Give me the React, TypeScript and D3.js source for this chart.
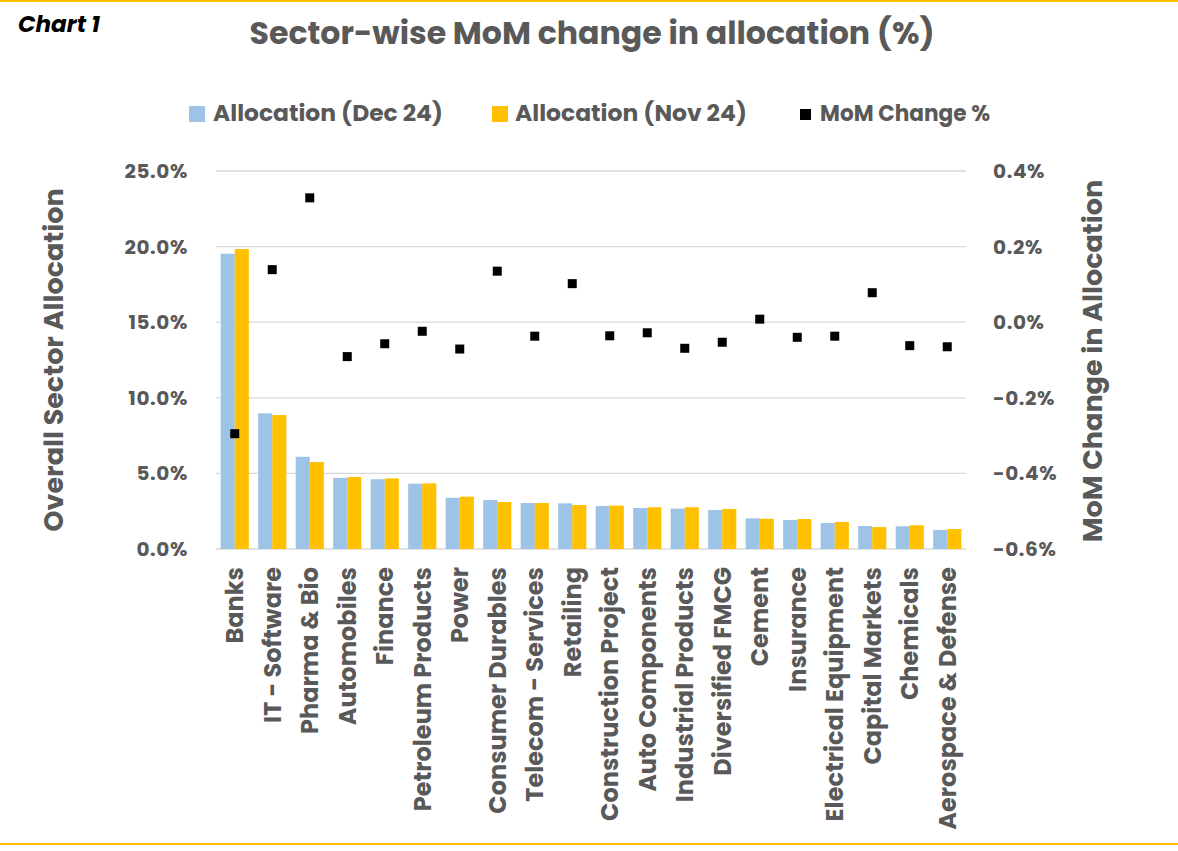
import React from "react";
import * as d3 from "d3";

const sectors = [
  "Banks",
  "IT - Software",
  "Pharma & Bio",
  "Automobiles",
  "Finance",
  "Petroleum Products",
  "Power",
  "Consumer Durables",
  "Telecom - Services",
  "Retailing",
  "Construction Project",
  "Auto Components",
  "Industrial Products",
  "Diversified FMCG",
  "Cement",
  "Insurance",
  "Electrical Equipment",
  "Capital Markets",
  "Chemicals",
  "Aerospace & Defense",
];

// allocation in %
const allocDec = [19.53, 8.97, 6.1, 4.7, 4.61, 4.32, 3.39, 3.24, 3.04, 3.02, 2.84, 2.71, 2.67, 2.58, 2.03, 1.92, 1.72, 1.52, 1.5, 1.26];
const allocNov = [19.84, 8.86, 5.75, 4.76, 4.67, 4.34, 3.46, 3.11, 3.04, 2.91, 2.87, 2.76, 2.76, 2.65, 2.0, 1.98, 1.79, 1.45, 1.57, 1.32];
// MoM change in %
const momChange = [-0.295, 0.139, 0.329, -0.091, -0.057, -0.024, -0.071, 0.135, -0.037, 0.102, -0.036, -0.028, -0.069, -0.053, 0.008, -0.04, -0.037, 0.078, -0.062, -0.065];

const leftTicks = [0, 5, 10, 15, 20, 25];
const rightTicks = [-0.6, -0.4, -0.2, 0, 0.2, 0.4];

const W = 1178;
const H = 851;
const plot = { left: 216, right: 966, top: 171, bottom: 549 };

const FONT = "Poppins, 'Open Sans', sans-serif";
const GREY = "#595959";
const BLUE = "#9dc3e6";
const GOLD = "#ffc000";

export default function App() {
  const x = d3.scaleBand<string>().domain(sectors).range([plot.left, plot.right]).paddingInner(0.25).paddingOuter(0.125);
  const xSub = d3.scaleBand<string>().domain(["dec", "nov"]).range([0, x.bandwidth()]);
  const yL = d3.scaleLinear().domain([0, 25]).range([plot.bottom, plot.top]);
  const yR = d3.scaleLinear().domain([-0.6, 0.4]).range([plot.bottom, plot.top]);
  const mk = 9;

  return (
    <svg width={W} height={H} style={{ display: "block", position: "absolute", left: 0, top: 0, background: "#fff" }}>
      <rect x={0} y={0} width={W} height={2} fill={GOLD} />
      <rect x={0} y={843} width={W} height={2} fill={GOLD} />

      <text x={18} y={32} fontFamily={FONT} fontSize={22} fontWeight={700} fontStyle="italic" fill="#000" textLength={82} lengthAdjust="spacingAndGlyphs">
        Chart 1
      </text>
      <text x={592} y={44} textAnchor="middle" fontFamily={FONT} fontSize={31} fontWeight={700} fill={GREY} textLength={685} lengthAdjust="spacingAndGlyphs">
        Sector-wise MoM change in allocation (%)
      </text>

      {/* legend */}
      <g fontFamily={FONT} fontSize={22} fontWeight={700} fill={GREY}>
        <rect x={189} y={106} width={16} height={16} fill={BLUE} />
        <text x={213} y={121} textLength={230} lengthAdjust="spacingAndGlyphs">Allocation (Dec 24)</text>
        <rect x={492} y={106} width={16} height={16} fill={GOLD} />
        <text x={515} y={121} textLength={232} lengthAdjust="spacingAndGlyphs">Allocation (Nov 24)</text>
        <rect x={800} y={109} width={11} height={11} fill="#000" />
        <text x={820} y={121} textLength={170} lengthAdjust="spacingAndGlyphs">MoM Change %</text>
      </g>

      {/* gridlines */}
      {leftTicks.map((t) => (
        <line key={t} x1={plot.left} x2={plot.right} y1={yL(t)} y2={yL(t)} stroke="#d9d9d9" strokeWidth={1.3} />
      ))}

      {/* bars */}
      {sectors.map((s, i) => (
        <g key={s} transform={`translate(${x(s)},0)`}>
          <rect x={xSub("dec")} y={yL(allocDec[i])} width={xSub.bandwidth()} height={yL(0) - yL(allocDec[i])} fill={BLUE} />
          <rect x={xSub("nov")} y={yL(allocNov[i])} width={xSub.bandwidth()} height={yL(0) - yL(allocNov[i])} fill={GOLD} />
        </g>
      ))}

      {/* MoM markers */}
      {sectors.map((s, i) => (
        <rect key={s} x={(x(s) as number) + x.bandwidth() / 2 - mk / 2} y={yR(momChange[i]) - mk / 2} width={mk} height={mk} fill="#000" />
      ))}

      {/* tick labels */}
      <g fontFamily={FONT} fontSize={20} fontWeight={700} fill={GREY}>
        {leftTicks.map((t) => (
          <text key={t} x={188} y={yL(t)} dy="0.35em" textAnchor="end" letterSpacing={0.6}>
            {t.toFixed(1)}%
          </text>
        ))}
        {rightTicks.map((t) => (
          <text key={t} x={993} y={yR(t)} dy="0.35em" textAnchor="start" letterSpacing={0.6}>
            {(t < 0 ? "-" : "") + Math.abs(t).toFixed(1)}%
          </text>
        ))}
      </g>

      {/* axis titles */}
      <text transform="translate(63,360) rotate(-90)" textAnchor="middle" fontFamily={FONT} fontSize={27} fontWeight={700} fill={GREY}>
        Overall Sector Allocation
      </text>
      <text transform="translate(1102,361) rotate(-90)" textAnchor="middle" fontFamily={FONT} fontSize={27} fontWeight={700} fill={GREY}>
        MoM Change in Allocation
      </text>

      {/* category labels */}
      <g fontFamily={FONT} fontSize={24} fontWeight={700} fill={GREY}>
        {sectors.map((s) => (
          <text key={s} transform={`translate(${(x(s) as number) + x.bandwidth() / 2},567) rotate(-90)`} dy="0.35em" textAnchor="end">
            {s}
          </text>
        ))}
      </g>
    </svg>
  );
}
